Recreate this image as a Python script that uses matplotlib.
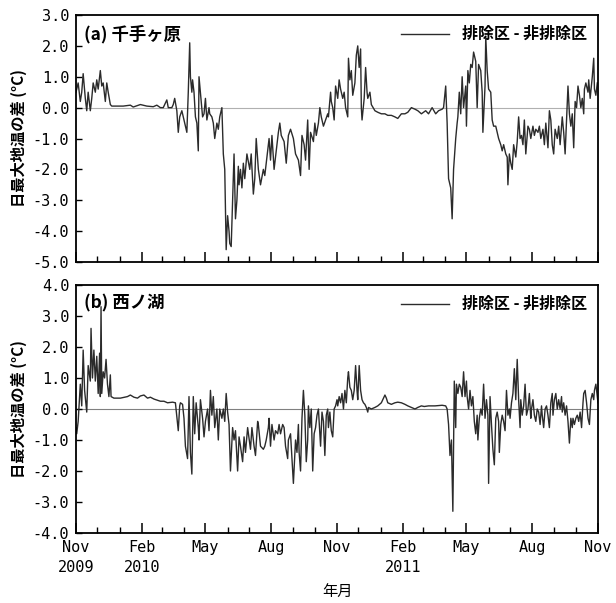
import numpy as np
import pandas as pd
import matplotlib
matplotlib.use("Agg")
import matplotlib.pyplot as plt
import matplotlib.dates as mdates
from matplotlib.ticker import FuncFormatter

plt.rcParams['font.family'] = ['Noto Sans CJK JP', 'DejaVu Sans']

start = pd.Timestamp("2009-11-01")
end = pd.Timestamp("2011-11-01")

# (a) 千手ヶ原 : days since 2009-11-01, difference of daily max soil temp
days_a = [0, 3, 6, 8, 10, 13, 15, 17, 20, 22, 24, 27, 29, 31, 34, 36, 38, 41, 43, 45,
          48, 50, 57, 66, 76, 80, 90, 99, 108, 113, 118, 122, 127, 129, 134, 136, 138, 141,
          143, 145, 148, 150, 152, 155, 157, 159, 160, 162, 163, 165, 167, 169, 171, 172,
          175, 177, 179, 181, 183, 186, 187, 190, 192, 194, 197, 199, 201, 204, 206, 208,
          210, 212, 214, 215, 217, 219, 221, 223, 225, 227, 228, 230, 232, 234, 236, 239,
          243, 245, 248, 250, 252, 255, 258, 262, 264, 266, 270, 272, 274, 277, 280, 283,
          285, 287, 291, 294, 297, 300, 304, 307, 311, 314, 316, 319, 321, 324, 326, 328,
          332, 334, 336, 339, 341, 343, 346, 349, 352, 353, 356, 357, 359, 361, 363, 366,
          368, 370, 373, 375, 377, 380, 381, 383, 385, 387, 390, 392, 394, 396, 398, 399,
          400, 403, 405, 407, 408, 411, 413, 418, 422, 427, 432, 436, 441, 446, 450, 455,
          460, 464, 469, 474, 478, 483, 489, 493, 498, 503, 507, 512, 514, 517, 519, 521,
          524, 526, 528, 531, 533, 534, 536, 538, 540, 542, 545, 546, 548, 550, 552, 554,
          556, 559, 561, 563, 566, 568, 569, 572, 573, 575, 577, 580, 582, 584, 587, 589,
          591, 594, 596, 598, 601, 603, 604, 606, 608, 610, 612, 615, 617, 619, 621, 623,
          625, 627, 629, 632, 634, 636, 639, 641, 643, 646, 648, 650, 653, 655, 657, 660,
          662, 664, 666, 668, 670, 673, 675, 677, 680, 682, 684, 686, 688, 690, 692, 694,
          696, 698, 700, 702, 704, 706, 708, 710, 711, 713, 716, 717, 719, 722, 724, 725,
          727, 729]
diff_a = [0.5, 0.8, 0.2, 0.5, 1.1, 0.3, -0.1, 0.5, -0.1, 0.3, 0.8, 0.5, 0.9, 0.6, 1.2, 0.7, 0.8, 0.2, 0.8, 0.5,
          0.1, 0.05, 0.05, 0.05, 0.08, 0.02, 0.1, 0.05, 0.03, 0.08, 0.0, 0.0, 0.25, 0.0, 0.0, 0.1, 0.3, -0.1,
          -0.8, -0.3, -0.1, -0.3, -0.5, -0.8, 0.5, 2.1, 1.0, 0.5, 0.9, 0.5, -0.3, -0.5, -1.4, 1.0,
          0.2, -0.3, -0.2, 0.3, -0.4, 0.0, -0.2, -0.3, -0.5, -1.0, -0.5, -0.7, -0.3, 0.0, -1.5, -2.0,
          -4.6, -3.5, -4.0, -4.4, -4.5, -3.0, -1.5, -3.6, -3.0, -1.9, -2.5, -2.0, -2.6, -1.8, -2.3, -1.5,
          -2.0, -1.5, -2.8, -2.3, -1.0, -2.0, -2.5, -2.0, -2.2, -1.8, -1.0, -1.7, -0.9, -2.0, -1.4, -0.8,
          -0.5, -0.9, -1.1, -1.8, -0.9, -0.7, -1.0, -1.5, -1.7, -2.2, -0.9, -1.2, -1.7, -0.4, -2.0, -0.8,
          -1.1, -0.5, -0.9, -0.5, 0.0, -0.3, -0.6, -0.4, -0.2, -0.3, 0.5, 0.2, 0.0, -0.4, 0.7, 0.3,
          0.9, 0.6, 0.3, 0.5, 0.0, -0.3, 1.6, 0.9, 1.2, 0.4, 0.8, 1.7, 2.0, 1.3, 1.9, 0.0,
          -0.4, 0.3, 1.3, 0.5, 0.3, 0.5, 0.1, -0.1, -0.15, -0.2, -0.2, -0.25, -0.25, -0.3, -0.35, -0.2,
          -0.2, -0.15, 0.0, -0.05, -0.1, -0.2, -0.1, -0.2, 0.0, -0.2, -0.1, -0.05, 0.0, 0.7, -0.5, -2.3,
          -2.6, -3.6, -2.0, -1.0, -0.5, -0.3, 0.5, -0.2, 1.0, 0.0, 0.7, -0.6, 1.2, 0.8, 1.4, 1.3,
          1.8, 1.5, 0.0, 1.4, 1.2, 0.5, -0.8, 0.7, 2.3, 1.2, 0.6, 0.5, -0.4, -0.6, -0.6, -0.8,
          -1.0, -1.2, -1.4, -1.2, -1.5, -1.6, -2.5, -1.5, -1.8, -2.0, -1.2, -1.6, -1.1, -0.3, -1.0, -0.9,
          -1.2, -0.4, -1.5, -0.6, -0.7, -1.0, -0.6, -0.9, -0.7, -0.8, -0.6, -1.0, -0.7, -1.2, -0.5, -1.3,
          -0.1, -0.4, -1.2, -1.5, -0.7, -1.0, -0.6, -1.2, -0.3, -0.8, -1.5, -0.4, 0.7, -0.2, -0.6, -0.2,
          -1.3, 0.2, 0.0, 0.7, 0.4, 0.0, 0.3, -0.2, 0.6, 0.8, 0.5, 0.9, 0.3, 1.0, 1.6, 0.6,
          0.4, 0.8]

# (b) 西ノ湖
days_b = [0, 1, 3, 6, 8, 10, 12, 15, 17, 20, 21, 23, 25, 27, 29, 31, 33, 34, 35, 36,
          38, 40, 42, 44, 46, 48, 49, 53, 62, 72, 76, 81, 86, 90, 95, 100, 104, 109, 114, 118,
          123, 128, 135, 139, 143, 145, 146, 149, 151, 153, 156, 158, 160, 162, 164, 166, 168, 171, 172, 174,
          177, 179, 181, 184, 186, 188, 190, 192, 194, 197, 199, 201, 204, 206, 208, 210, 212, 214, 216, 219,
          221, 223, 226, 228, 230, 233, 235, 237, 240, 244, 246, 249, 251, 254, 255, 258, 262, 264, 266, 269,
          270, 272, 274, 277, 279, 282, 284, 286, 289, 291, 293, 296, 297, 300, 302, 304, 307, 309, 311, 312,
          314, 316, 318, 320, 322, 324, 325, 327, 329, 331, 333, 335, 337, 339, 340, 342, 344, 346, 348, 350,
          352, 353, 355, 357, 359, 361, 363, 365, 366, 368, 370, 372, 374, 376, 378, 380, 381, 383, 385, 387,
          389, 391, 393, 394, 396, 398, 400, 402, 404, 406, 408, 409, 413, 418, 422, 427, 429, 432, 434, 436,
          441, 446, 450, 455, 460, 464, 469, 474, 478, 483, 487, 493, 502, 512, 517, 519, 521, 523, 525, 527,
          529, 531, 532, 534, 536, 538, 540, 542, 544, 546, 547, 549, 551, 553, 555, 557, 559, 561, 562, 564,
          566, 568, 570, 572, 574, 576, 577, 579, 581, 583, 585, 587, 589, 591, 592, 594, 596, 598, 600, 602,
          604, 606, 607, 609, 611, 613, 615, 617, 619, 621, 622, 624, 626, 628, 630, 632, 634, 636, 637, 639,
          641, 643, 645, 647, 649, 651, 652, 654, 656, 658, 660, 662, 664, 666, 667, 669, 671, 673, 675, 677,
          679, 680, 682, 684, 686, 688, 690, 692, 694, 695, 697, 699, 701, 703, 705, 707, 709, 710, 712, 714,
          716, 718, 720, 722, 724, 725, 727, 729, 730]
diff_b = [-0.6, -0.8, -0.4, 0.8, 0.1, 1.9, 0.6, -0.1, 1.4, 0.9, 2.6, 1.0, 1.9, 0.9, 1.7, 0.5, 1.8, 0.4, 3.3, 0.5,
          1.2, 1.0, 1.6, 0.8, 0.4, 1.1, 0.4, 0.35, 0.35, 0.4, 0.45, 0.38, 0.35, 0.42, 0.45, 0.35, 0.38, 0.32, 0.28, 0.25,
          0.25, 0.2, 0.22, 0.2, -0.7, 0.1, 0.2, 0.15, -0.3, -1.2, -1.6, 0.4, -1.4, -2.1, 0.4, -0.8, 0.2, -0.6, -1.0, 0.3,
          -0.3, -0.9, -0.4, 0.0, -0.7, 0.6, -0.2, 0.4, -0.6, 0.0, -1.0, 0.0, -0.3, 0.0, -0.4, 0.5, -0.1, -0.5, -2.0, -0.6,
          -1.0, -0.7, -2.0, -0.9, -1.2, -1.7, -0.9, -1.4, -0.6, -1.3, -0.6, -1.2, -1.5, -0.4, -0.5, -1.2, -1.3, -1.2, -1.0, -0.6,
          -0.3, -1.2, -0.5, -1.0, -0.7, -0.8, -0.5, -0.8, -0.5, -0.6, -1.2, -1.6, -1.0, -0.8, -1.6, -2.4, -1.0, -1.4, -0.5, -1.4,
          -2.0, -0.3, 0.6, -0.2, -1.7, -1.0, 0.1, -0.6, 0.0, -2.0, -0.8, -0.6, -0.2, 0.0, -0.4, -1.2, -0.1, -0.4, -1.5, -0.2,
          0.0, -0.6, -0.1, -0.7, -0.9, 0.0, 0.1, 0.3, 0.1, 0.4, 0.2, 0.5, 0.0, 0.6, 0.2, 1.0, 1.2, 0.7, 0.6, 0.3,
          0.6, 1.4, 0.6, 0.3, 1.4, 0.6, 0.3, 0.2, 0.15, 0.05, -0.1, 0.05, 0.0, 0.05, 0.1, 0.2, 0.3, 0.45, 0.35, 0.2,
          0.15, 0.2, 0.22, 0.2, 0.15, 0.1, 0.05, 0.0, 0.05, 0.1, 0.08, 0.1, 0.1, 0.12, 0.1, 0.0, -0.5, -1.5, -1.0, -3.3,
          0.9, -0.6, 0.8, 0.5, 0.8, 0.7, 0.4, 1.2, 0.4, 0.9, 0.4, 0.0, 0.6, 0.1, 0.4, -0.4, -0.8, -0.2, -1.0, -0.3,
          0.0, -0.2, 0.8, -0.3, 0.3, -0.2, -2.4, 0.4, -0.5, -1.3, -1.8, -0.3, -0.1, -0.4, -1.4, -0.5, -0.2, -0.4, -0.7, 0.6,
          -0.2, 0.0, -0.3, 0.2, 0.5, 1.3, 0.3, 1.6, 0.3, -0.6, 0.3, -0.2, 0.1, 0.8, -0.2, 0.0, 0.5, -0.3, 0.0, 0.3,
          -0.2, -0.4, 0.0, -0.1, -0.5, 0.1, -0.2, -0.6, 0.0, 0.1, -0.2, -0.6, 0.2, 0.5, -0.2, 0.3, 0.5, 0.0, 0.3, 0.0,
          0.4, -0.1, 0.2, -0.2, 0.1, -0.4, -1.1, -0.3, -0.6, -0.3, -0.5, -0.3, -0.2, -0.4, -0.1, -0.6, 0.2, 0.5, 0.6, 0.2,
          -0.3, -0.5, 0.3, 0.5, 0.3, 0.6, 0.8, 0.4, 0.2]

panels = [
    ("(a) 千手ヶ原", days_a, diff_a, (-5, 3), "#b0b0b0"),
    ("(b) 西ノ湖", days_b, diff_b, (-4, 4), "#808080"),
]
legend_label = "排除区 - 非排除区"
ylabel = "日最大地温の差 (°C)"
xlabel = "年月"


def month_label(x, pos):
    d = mdates.num2date(x)
    txt = d.strftime("%b")
    if d.month == 2 or (d.year == 2009 and d.month == 11):
        txt += "\n" + str(d.year)
    return txt


fig = plt.figure(figsize=(6.16, 6.03), dpi=100)
boxes = [[0.1234, 0.5655, 0.8474, 0.4096], [0.1234, 0.1161, 0.8474, 0.4113]]

for i, (title, days, vals, ylim, zcol) in enumerate(panels):
    ax = fig.add_axes(boxes[i])
    dates = start + pd.to_timedelta(days, unit="D")
    ax.axhline(0, color=zcol, lw=0.8, zorder=1)
    ax.plot(dates, vals, color="#2b2b2b", lw=1.0, label=legend_label, zorder=2)
    ax.set_xlim(start, end)
    ax.set_ylim(*ylim)
    ax.set_yticks(np.arange(ylim[0], ylim[1] + 1, 1))
    ax.yaxis.set_major_formatter(FuncFormatter(lambda v, p: f"{v:.1f}"))
    ax.xaxis.set_major_locator(mdates.MonthLocator(bymonth=[2, 5, 8, 11]))
    ax.xaxis.set_minor_locator(mdates.MonthLocator())
    ax.tick_params(axis="x", which="major", direction="in", length=7, width=1.1, pad=5)
    ax.tick_params(axis="x", which="minor", direction="in", length=4, width=1.0)
    ax.tick_params(axis="y", direction="in", length=4, width=1.0, pad=5)
    for lab in ax.get_yticklabels():
        lab.set_family("DejaVu Sans Mono")
        lab.set_fontsize(11)
    if i == 0:
        ax.tick_params(axis="x", labelbottom=False)
    else:
        ax.xaxis.set_major_formatter(FuncFormatter(month_label))
        for lab in ax.get_xticklabels():
            lab.set_family("DejaVu Sans Mono")
            lab.set_fontsize(11)
            lab.set_horizontalalignment("center")
            lab.set_linespacing(1.4)
        ax.set_xlabel(xlabel, fontsize=11, labelpad=6)
    for s in ax.spines.values():
        s.set_linewidth(1.3)
    ax.set_ylabel(ylabel, fontsize=11, fontweight="bold", labelpad=4)
    ax.text(0.015, 0.96, title, transform=ax.transAxes, fontsize=12.5,
            fontweight="bold", va="top", ha="left")
    ax.legend(loc="upper right", frameon=False, handlelength=3,
              borderaxespad=0.3, prop={"weight": "bold", "size": 11.5})

fig.savefig("out.png", dpi=100)
